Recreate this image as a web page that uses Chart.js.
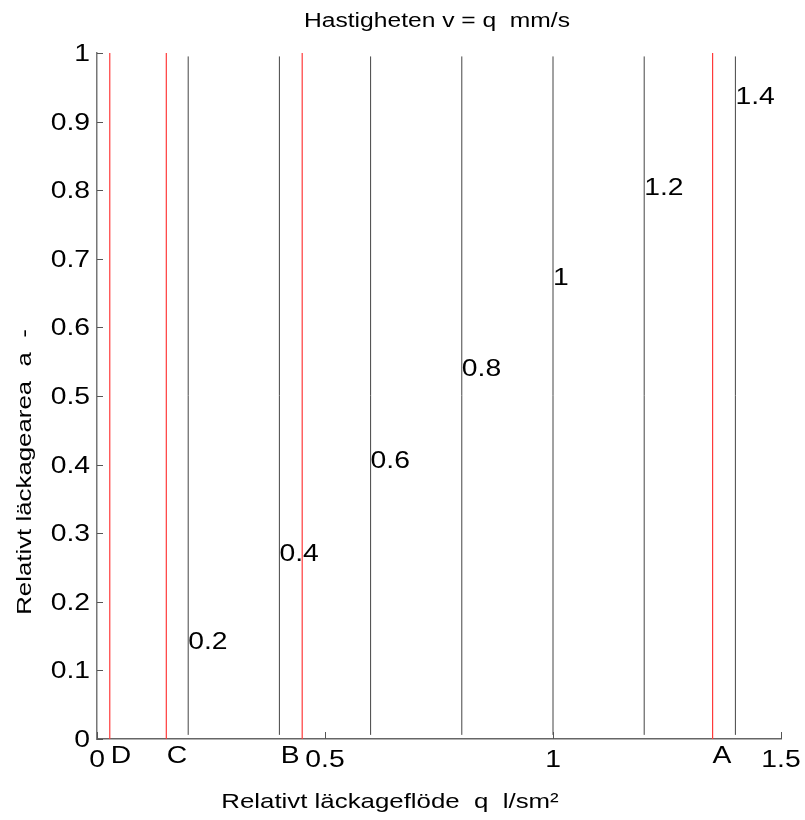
<!DOCTYPE html>
<html lang="sv">
<head>
    <meta charset="UTF-8">
    <title>Hastigheten</title>
    <script src="https://cdn.jsdelivr.net/npm/chart.js"></script>
    <style>
        body { margin: 0; background: #fff; }
    </style>
</head>
<body>
    <canvas id="chart" width="805" height="820"></canvas>

    <script>
        // contour lines v = q (vertical), with their label heights
        const contourLevels = [0.2, 0.4, 0.6, 0.8, 1, 1.2, 1.4];
        const contourLabelY = [0.143, 0.271, 0.407, 0.541, 0.673, 0.805, 0.937];
        const contourLabels = ['0.2', '0.4', '0.6', '0.8', '1', '1.2', '1.4'];

        // red marker lines and the letters under the axis
        const markerNames = ['D', 'C', 'B', 'A'];
        const markerQ = [0.028, 0.152, 0.45, 1.35];
        const markerLabelQ = [0.03, 0.153, 0.403, 1.35];

        const xTicks = [0, 0.5, 1, 1.5];
        const yTicks = [0, 0.1, 0.2, 0.3, 0.4, 0.5, 0.6, 0.7, 0.8, 0.9, 1];

        const titleText = 'Hastigheten v = q  mm/s';
        const xTitleText = 'Relativt läckageflöde  q  l/sm²';
        const yTitleText = 'Relativt läckagearea  a  -';

        const FONT = "'Liberation Sans', Arial, sans-serif";
        const STRETCH = 1.23; // the original text is drawn wide

        const datasets = [];
        contourLevels.forEach(q => {
            datasets.push({
                data: [{ x: q, y: 0.006 }, { x: q, y: 0.995 }],
                borderColor: '#444',
                borderWidth: 1,
                showLine: true,
                pointRadius: 0
            });
        });
        markerQ.forEach(q => {
            datasets.push({
                data: [{ x: q, y: 0 }, { x: q, y: 1 }],
                borderColor: '#ff3a3a',
                borderWidth: 1.2,
                showLine: true,
                pointRadius: 0
            });
        });

        function wideText(ctx, text, x, y, size, align, angle) {
            ctx.save();
            ctx.translate(x, y);
            if (angle) ctx.rotate(angle);
            ctx.scale(STRETCH, 1);
            ctx.font = size + 'px ' + FONT;
            ctx.textAlign = align;
            ctx.textBaseline = 'alphabetic';
            ctx.fillText(text, 0, 0);
            ctx.restore();
        }

        // inward ticks, all the text
        const extras = {
            id: 'extras',
            afterDraw(chart) {
                const ctx = chart.ctx;
                const x = chart.scales.x, y = chart.scales.y;
                const area = chart.chartArea;
                ctx.save();
                ctx.strokeStyle = '#555';
                ctx.lineWidth = 1;
                x.ticks.forEach(t => {
                    const px = Math.round(x.getPixelForValue(t.value)) + 0.5;
                    ctx.beginPath();
                    ctx.moveTo(px, area.bottom);
                    ctx.lineTo(px, area.bottom - 7);
                    ctx.stroke();
                });
                y.ticks.forEach(t => {
                    const py = Math.round(y.getPixelForValue(t.value)) + 0.5;
                    ctx.beginPath();
                    ctx.moveTo(area.left, py);
                    ctx.lineTo(area.left + 6, py);
                    ctx.stroke();
                });
                ctx.fillStyle = '#000';

                x.ticks.forEach(t => {
                    wideText(ctx, String(t.value), x.getPixelForValue(t.value), 767, 23, 'center');
                });
                y.ticks.forEach(t => {
                    wideText(ctx, String(t.value), 90, y.getPixelForValue(t.value) + 8, 23, 'right');
                });

                contourLevels.forEach((q, i) => {
                    wideText(ctx, contourLabels[i], x.getPixelForValue(q), y.getPixelForValue(contourLabelY[i]) + 8, 23, 'left');
                });
                markerNames.forEach((name, i) => {
                    wideText(ctx, name, x.getPixelForValue(markerLabelQ[i]), 763, 23, 'left');
                });

                wideText(ctx, titleText, 437, 27, 20, 'center');
                wideText(ctx, xTitleText, 390, 808, 21, 'center');
                wideText(ctx, yTitleText, 31, 472, 21, 'center', -Math.PI / 2);
                ctx.restore();
            }
        };

        new Chart(document.getElementById('chart'), {
            type: 'scatter',
            data: { datasets },
            options: {
                responsive: false,
                animation: false,
                layout: { padding: { left: 0, right: 24, top: 53, bottom: 0 } },
                plugins: {
                    legend: { display: false },
                    tooltip: { enabled: false }
                },
                scales: {
                    x: {
                        type: 'linear',
                        min: 0,
                        max: 1.5,
                        afterBuildTicks: s => { s.ticks = xTicks.map(v => ({ value: v })); },
                        afterFit: s => { s.height = 81; },
                        grid: { display: false, drawTicks: false },
                        border: { display: true, color: '#666', width: 1.5 },
                        ticks: { display: false }
                    },
                    y: {
                        type: 'linear',
                        min: 0,
                        max: 1,
                        afterBuildTicks: s => { s.ticks = yTicks.map(v => ({ value: v })); },
                        afterFit: s => { s.width = 97; },
                        grid: { display: false, drawTicks: false },
                        border: { display: true, color: '#777', width: 1.5 },
                        ticks: { display: false }
                    }
                }
            },
            plugins: [extras]
        });
    </script>
</body>
</html>
